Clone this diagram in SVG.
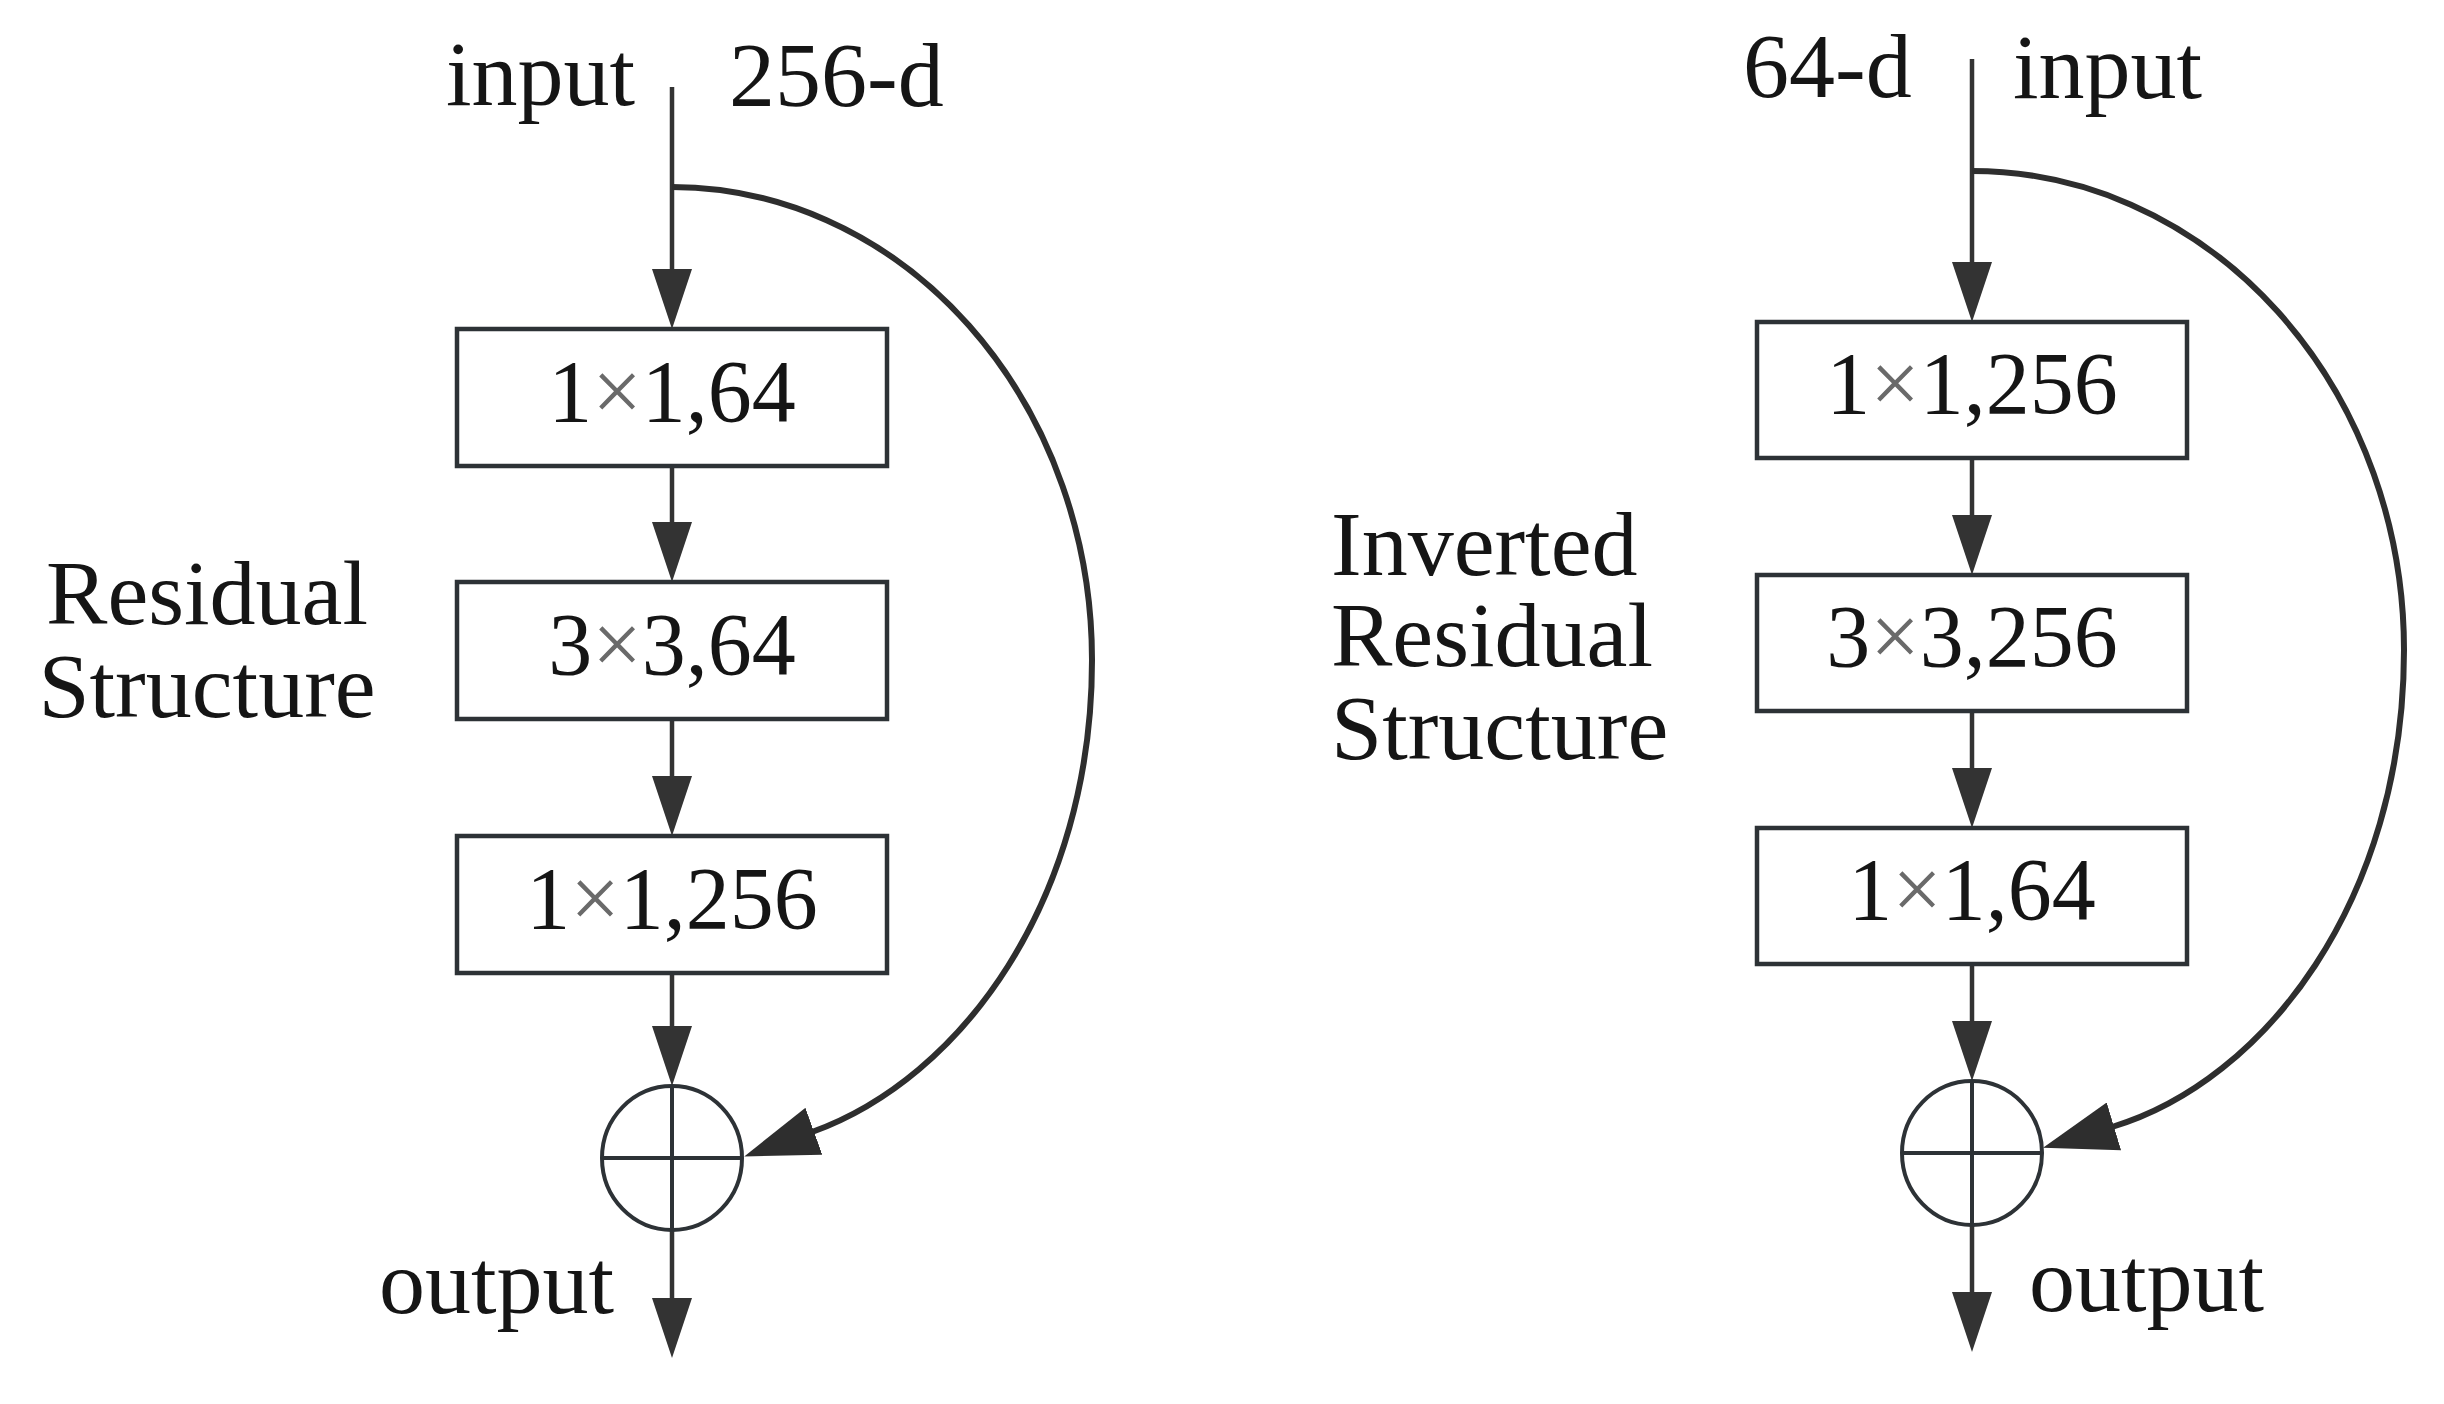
<svg xmlns="http://www.w3.org/2000/svg" width="2444" height="1404" viewBox="0 0 2444 1404">
<style>
  .lbl{font-family:"Liberation Serif","Times New Roman",serif;font-size:92px;fill:#151515}
  .btxt{font-family:"Liberation Serif","Times New Roman",serif;font-size:88px;fill:#151515;text-anchor:middle}
  .x{fill:#6a6a6a}
  .box{fill:#fff;stroke:#2d3236;stroke-width:4.5}
  .sum{fill:none;stroke:#2d3236;stroke-width:4}
  .ln{fill:none;stroke:#333;stroke-width:4.5}
  .cv{fill:none;stroke:#2e2e2e;stroke-width:6}
</style>
<defs>
  <marker id="arr" markerUnits="userSpaceOnUse" markerWidth="60" markerHeight="40" viewBox="0 0 60 40" refX="20" refY="20" orient="auto">
    <path d="M0,0 L60,20 L0,40 z" fill="#333"/>
  </marker>
  <marker id="arrBig" markerUnits="userSpaceOnUse" markerWidth="74" markerHeight="50" viewBox="0 0 74 50" refX="2" refY="25" orient="auto">
    <path d="M0,0 L74,25 L0,50 z" fill="#2e2e2e"/>
  </marker>
</defs>
<rect width="2444" height="1404" fill="#fff"/>

<g id="connectors">
  <!-- left block -->
  <line class="ln" x1="672" y1="87" x2="672" y2="289" marker-end="url(#arr)"/>
  <line class="ln" x1="672" y1="466" x2="672" y2="542" marker-end="url(#arr)"/>
  <line class="ln" x1="672" y1="719" x2="672" y2="796" marker-end="url(#arr)"/>
  <line class="ln" x1="672" y1="973" x2="672" y2="1046" marker-end="url(#arr)"/>
  <line class="ln" x1="672" y1="1230" x2="672" y2="1318" marker-end="url(#arr)"/>
  <path class="cv" d="M672,187 A420,473 0 0 1 1092,660 C1092,900 962,1078 812,1132" marker-end="url(#arrBig)"/>
  <!-- right block -->
  <line class="ln" x1="1972" y1="59" x2="1972" y2="282" marker-end="url(#arr)"/>
  <line class="ln" x1="1972" y1="458" x2="1972" y2="535" marker-end="url(#arr)"/>
  <line class="ln" x1="1972" y1="711" x2="1972" y2="788" marker-end="url(#arr)"/>
  <line class="ln" x1="1972" y1="964" x2="1972" y2="1041" marker-end="url(#arr)"/>
  <line class="ln" x1="1972" y1="1225" x2="1972" y2="1312" marker-end="url(#arr)"/>
  <path class="cv" d="M1972,171 A432,479 0 0 1 2404,650 C2404,900 2265,1081 2112,1127" marker-end="url(#arrBig)"/>
</g>

<g id="left-labels">
  <text class="lbl" x="446" y="105">input</text>
  <text class="lbl" x="729" y="106">256-d</text>
  <text class="lbl" text-anchor="middle"><tspan x="207" y="624">Residual</tspan><tspan x="207" y="717">Structure</tspan></text>
  <text class="lbl" x="379" y="1313">output</text>
</g>

<g id="left-conv1">
  <rect class="box" x="457" y="329" width="430" height="137"/>
  <text class="btxt" x="672" y="421">1<tspan class="x">×</tspan>1,64</text>
</g>
<g id="left-conv2">
  <rect class="box" x="457" y="582" width="430" height="137"/>
  <text class="btxt" x="672" y="674">3<tspan class="x">×</tspan>3,64</text>
</g>
<g id="left-conv3">
  <rect class="box" x="457" y="836" width="430" height="137"/>
  <text class="btxt" x="672" y="928">1<tspan class="x">×</tspan>1,256</text>
</g>
<g id="left-sum">
  <ellipse class="sum" cx="672" cy="1158" rx="70" ry="72"/>
  <line class="sum" x1="602" y1="1158" x2="742" y2="1158"/>
  <line class="sum" x1="672" y1="1086" x2="672" y2="1230"/>
</g>

<g id="right-labels">
  <text class="lbl" x="1743" y="97">64-d</text>
  <text class="lbl" x="2013" y="98">input</text>
  <text class="lbl"><tspan x="1331" y="575">Inverted</tspan><tspan x="1331" y="666">Residual</tspan><tspan x="1331" y="759">Structure</tspan></text>
  <text class="lbl" x="2029" y="1311">output</text>
</g>

<g id="right-conv1">
  <rect class="box" x="1757" y="322" width="430" height="136"/>
  <text class="btxt" x="1972" y="413">1<tspan class="x">×</tspan>1,256</text>
</g>
<g id="right-conv2">
  <rect class="box" x="1757" y="575" width="430" height="136"/>
  <text class="btxt" x="1972" y="666">3<tspan class="x">×</tspan>3,256</text>
</g>
<g id="right-conv3">
  <rect class="box" x="1757" y="828" width="430" height="136"/>
  <text class="btxt" x="1972" y="919">1<tspan class="x">×</tspan>1,64</text>
</g>
<g id="right-sum">
  <ellipse class="sum" cx="1972" cy="1153" rx="70" ry="72"/>
  <line class="sum" x1="1902" y1="1153" x2="2042" y2="1153"/>
  <line class="sum" x1="1972" y1="1081" x2="1972" y2="1225"/>
</g>
</svg>
